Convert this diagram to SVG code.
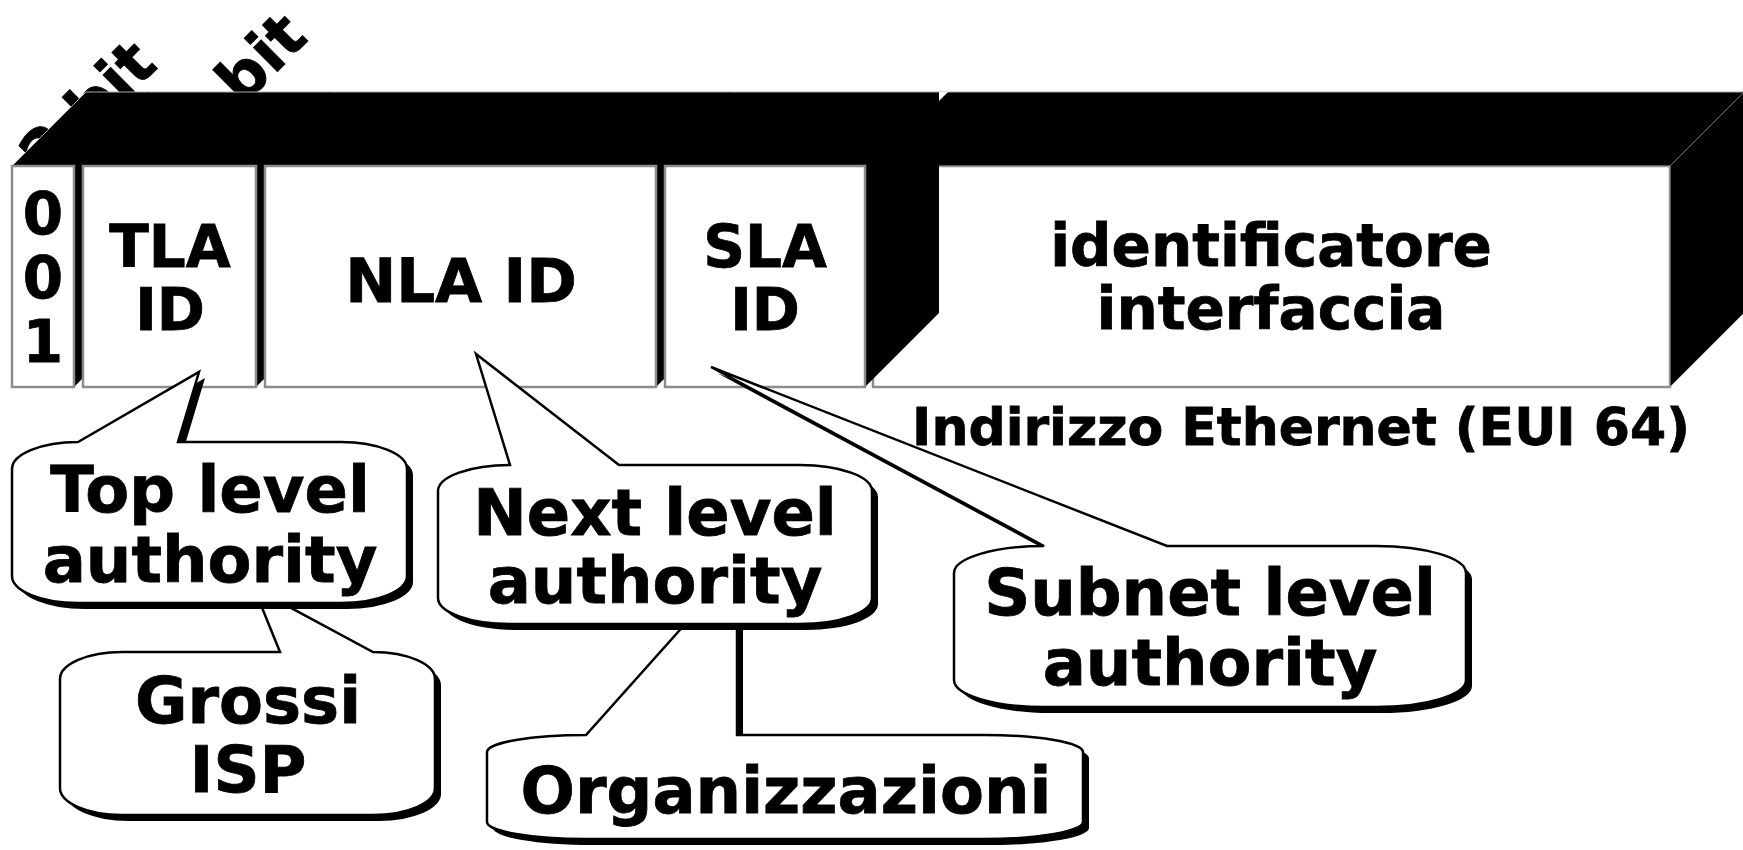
<svg xmlns="http://www.w3.org/2000/svg" xmlns:xlink="http://www.w3.org/1999/xlink" width="1743" height="850" viewBox="0 0 1743 850">
  <style>
    .t { font-family: "DejaVu Sans", Verdana, sans-serif; font-weight: bold; fill: #000; stroke: #000; stroke-width: 0.8; }
    .mid { text-anchor: middle; }
    .box { font-size: 58px; }
    .call { font-size: 64px; }
    .front { fill: #fff; stroke: #8c8c8c; stroke-width: 2.5; }
    .depth { fill: #000; }
    .bubble { fill: #fff; stroke: #000; stroke-width: 2.5; stroke-linejoin: miter; }
    .shadow { fill: #000; }
  </style>
  <defs>
    <!-- callout outlines: rounded body with a wedge tail on the top edge -->
    <path id="tla-shape" d="M12,469 A66,27 0 0 1 78,442 L199,372 L178,442 L341,442 A66,27 0 0 1 407,469 L407,576 A66,27 0 0 1 341,603 L78,603 A66,27 0 0 1 12,576 Z"/>
    <path id="isp-shape" d="M60,679 A62,27 0 0 1 122,652 L280,652 L254,588 L373,652 A62,27 0 0 1 435,679 L435,788 A62,27 0 0 1 373,815 L122,815 A62,27 0 0 1 60,788 Z"/>
    <path id="nla-shape" d="M438,491 A72,26 0 0 1 510,465 L476,354 L619,465 L800,465 A72,26 0 0 1 872,491 L872,598 A72,26 0 0 1 800,624 L510,624 A72,26 0 0 1 438,598 Z"/>
    <path id="org-shape" d="M487,752 A99,17 0 0 1 586,735 L737,566 L737,735 L984,735 A99,17 0 0 1 1083,752 L1083,822 A99,17 0 0 1 984,839 L586,839 A99,17 0 0 1 487,822 Z"/>
    <path id="sla-shape" d="M954,573 A90,27 0 0 1 1044,546 L711,367 L1167,546 L1376,546 A90,27 0 0 1 1466,573 L1466,680 A90,27 0 0 1 1376,707 L1044,707 A90,27 0 0 1 954,680 Z"/>
  </defs>

  <!-- field widths, partly hidden behind the top band -->
  <g id="widths">
    <text class="t" font-size="62" transform="translate(46,180) rotate(-45)">2 bit</text>
    <text class="t" font-size="62" transform="translate(166,183) rotate(-45)">13 bit</text>
  </g>

  <!-- 3D address bar -->
  <g id="field-iid">
    <rect class="front" x="873" y="166" width="797" height="221"/>
  </g>
  <g id="bar-depth">
    <polygon class="depth" points="12,166 86,92 1744,92 1744,313 1670,387 1670,166" stroke="#aaa" stroke-width="1"/>
    <line x1="1670" y1="166" x2="1744" y2="92" stroke="#777" stroke-width="1"/>
    <polygon points="939,92 948,92 939,101" fill="#fff"/>
    <polygon class="depth" points="74,166 148,92 148,313 74,387"/>
    <polygon class="depth" points="256,166 330,92 330,313 256,387"/>
    <polygon class="depth" points="656,166 730,92 730,313 656,387"/>
    <polygon class="depth" points="865,166 939,92 939,313 865,387"/>
  </g>
  <g id="field-fp">
    <rect class="front" x="12" y="166" width="62" height="221"/>
    <text class="t box mid" x="43" y="234">0</text>
    <text class="t box mid" x="43" y="298">0</text>
    <text class="t box mid" x="43" y="362">1</text>
  </g>
  <g id="field-tla">
    <rect class="front" x="83" y="166" width="173" height="221"/>
    <text class="t box mid" x="170" y="267">TLA</text>
    <text class="t box mid" x="170" y="330">ID</text>
  </g>
  <g id="field-nla">
    <rect class="front" x="265" y="166" width="391" height="221"/>
    <text class="t mid" font-size="61" x="461" y="302">NLA ID</text>
  </g>
  <g id="field-sla">
    <rect class="front" x="665" y="166" width="200" height="221"/>
    <text class="t box mid" x="765" y="267">SLA</text>
    <text class="t box mid" x="765" y="330">ID</text>
  </g>
  <g id="field-iid-label">
    <text class="t box mid" x="1271" y="266">identificatore</text>
    <text class="t box mid" x="1271" y="329">interfaccia</text>
  </g>

  <!-- callouts -->
  <g id="callout-isp">
    <use xlink:href="#isp-shape" class="shadow" transform="translate(6,6)"/>
    <use xlink:href="#isp-shape" class="bubble"/>
    <text class="t call mid" x="248" y="723">Grossi</text>
    <text class="t call mid" x="248" y="792">ISP</text>
  </g>
  <g id="callout-tla">
    <use xlink:href="#tla-shape" class="shadow" transform="translate(6,6)"/>
    <use xlink:href="#tla-shape" class="bubble"/>
    <text class="t call mid" x="210" y="512">Top level</text>
    <text class="t call mid" x="210" y="582">authority</text>
  </g>
  <g id="callout-org">
    <use xlink:href="#org-shape" class="shadow" transform="translate(6,6)"/>
    <use xlink:href="#org-shape" class="bubble"/>
    <text class="t call mid" x="786" y="813">Organizzazioni</text>
  </g>
  <g id="callout-nla">
    <use xlink:href="#nla-shape" class="shadow" transform="translate(6,6)"/>
    <use xlink:href="#nla-shape" class="bubble"/>
    <text class="t call mid" x="655" y="535">Next level</text>
    <text class="t call mid" x="655" y="603">authority</text>
  </g>
  <g id="callout-sla">
    <use xlink:href="#sla-shape" class="shadow" transform="translate(6,6)"/>
    <use xlink:href="#sla-shape" class="bubble"/>
    <text class="t call mid" x="1210" y="615">Subnet level</text>
    <text class="t call mid" x="1210" y="685">authority</text>
  </g>

  <g id="eui-note">
    <text class="t mid" font-size="52" x="1301" y="445">Indirizzo Ethernet (EUI 64)</text>
  </g>
</svg>
